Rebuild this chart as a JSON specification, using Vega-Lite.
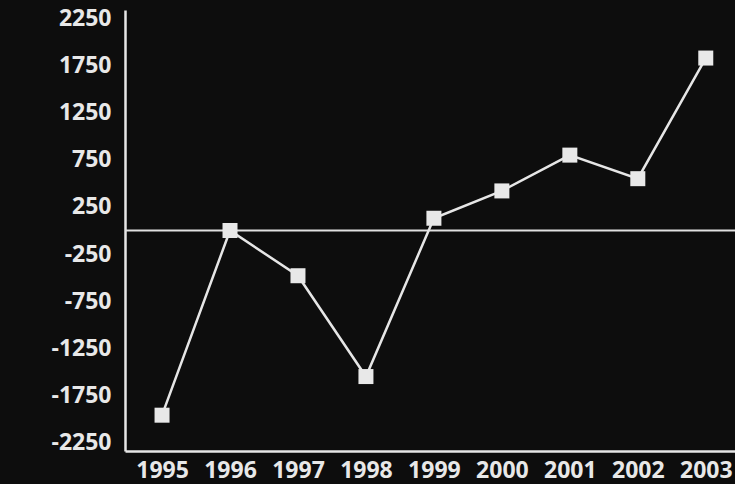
{
  "$schema": "https://vega.github.io/schema/vega-lite/v6.json",
  "autosize": "none",
  "width": 610,
  "height": 441,
  "padding": {"left": 125, "top": 10, "right": 0, "bottom": 33},
  "background": "#0d0d0d",
  "config": {"view": {"stroke": null}},
  "data": {
    "values": [
      {"year": 1995, "value": -1960},
      {"year": 1996, "value": 0},
      {"year": 1997, "value": -480},
      {"year": 1998, "value": -1550},
      {"year": 1999, "value": 130},
      {"year": 2000, "value": 420},
      {"year": 2001, "value": 800},
      {"year": 2002, "value": 550},
      {"year": 2003, "value": 1830}
    ]
  },
  "layer": [
    {
      "data": {"values": [{"zero": 0}]},
      "mark": {"type": "rule", "color": "#e0e0e0", "strokeWidth": 2},
      "encoding": {"y": {"field": "zero", "type": "quantitative"}}
    },
    {
      "mark": {"type": "line", "color": "#e6e6e6", "strokeWidth": 2.5},
      "encoding": {
        "x": {
          "field": "year",
          "type": "quantitative",
          "scale": {"domain": [1994.455, 2003.43], "nice": false, "zero": false},
          "axis": {
            "title": null,
            "values": [1995, 1996, 1997, 1998, 1999, 2000, 2001, 2002, 2003],
            "format": "d",
            "grid": false,
            "ticks": false,
            "domainColor": "#e6e6e6",
            "domainWidth": 2.5,
            "labelColor": "#e8e8e8",
            "labelFont": "Open Sans",
            "labelFontWeight": "bold",
            "labelFontSize": 23,
            "labelPadding": 8,
            "labelFlush": false,
            "labelOverlap": false,
            "labelBound": false
          }
        },
        "y": {
          "field": "value",
          "type": "quantitative",
          "scale": {"domain": [-2340, 2340], "nice": false, "zero": false},
          "axis": {
            "title": null,
            "values": [-2250, -1750, -1250, -750, -250, 250, 750, 1250, 1750, 2250],
            "labelExpr": "datum.value < 0 ? '-' + abs(datum.value) : '' + datum.value",
            "grid": false,
            "ticks": false,
            "domainColor": "#e6e6e6",
            "domainWidth": 2.5,
            "labelColor": "#e8e8e8",
            "labelFont": "Open Sans",
            "labelFontWeight": "bold",
            "labelFontSize": 23,
            "labelPadding": 14,
            "labelOverlap": false
          }
        }
      }
    },
    {
      "mark": {"type": "point", "shape": "square", "filled": true, "color": "#e8e8e8", "size": 225, "opacity": 1},
      "encoding": {
        "x": {"field": "year", "type": "quantitative"},
        "y": {"field": "value", "type": "quantitative"}
      }
    }
  ]
}
